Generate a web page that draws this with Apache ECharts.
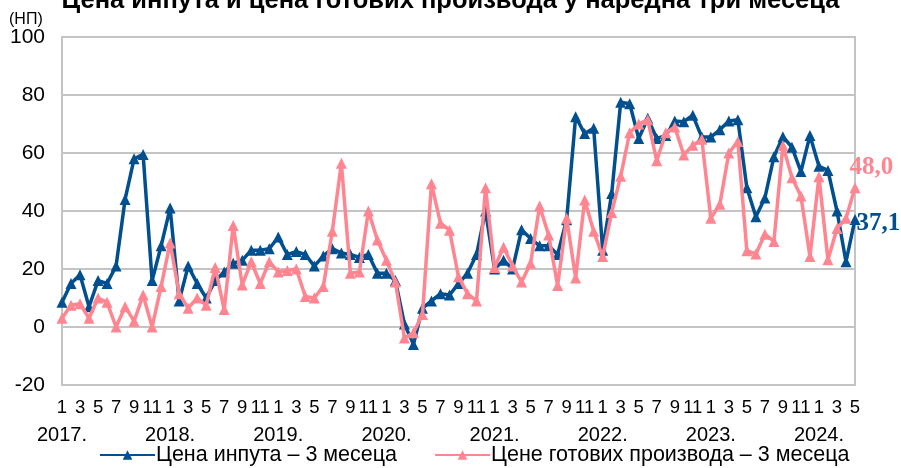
<!DOCTYPE html>
<html>
<head>
<meta charset="utf-8">
<script src="https://cdn.jsdelivr.net/npm/echarts@6/dist/echarts.min.js"></script>
<style>html,body{margin:0;padding:0;background:#fff;}#c{width:901px;height:468px;}</style>
</head>
<body>
<div id="c"></div>
<script>
const titleText = 'Цена инпута и цена готових производа у наредна три месеца';
const unitText = '(НП)';
const years = [2017, 2018, 2019, 2020, 2021, 2022, 2023, 2024];
const lastMonth = 5;
const seriesNames = ['Цена инпута – 3 месеца', 'Цене готових производа – 3 месеца'];
const inputPrices = [
  8.5, 15, 18, 7, 16, 15, 21, 44, 58, 59.5, 16, 28,
  41, 9, 21, 15, 10, 16, 19, 22, 23, 26.5, 26.5, 27,
  31, 25, 26, 25, 21, 24.5, 27, 25.5, 25, 24, 25, 18.5,
  18.5, 16, 1, -6, 6.5, 9, 11.5, 11, 15, 18.5, 25, 40,
  20, 23, 20, 33.5, 30.5, 28, 28, 25, 37, 72.5, 66.7, 68.5,
  26.5, 46, 77.5, 77, 65, 72, 65, 66, 71, 70.8, 73, 65.5,
  65.5, 68, 71, 71.5, 48, 38, 44.5, 58.7, 65.6, 62, 53.6, 66,
  55.4, 54, 40, 22.5, 37.1
];
const finishedPrices = [
  3, 7.5, 8, 3, 10, 8.5, 0, 7, 2, 11, 0, 14,
  29, 11.5, 6.5, 10, 7.5, 20.5, 6, 35, 14.5, 22.5, 15, 22.5,
  19, 19.5, 20, 10.5, 10, 14, 33, 56.5, 18.5, 19, 40, 30,
  23, 15.5, -3.8, -2, 4.3, 49.4, 35.8, 33.4, 17.3, 11.5, 9, 48,
  20.5, 27.5, 21, 15.5, 22, 41.7, 31.7, 14.3, 37.5, 16.9, 43.8, 33,
  24.3, 39.5, 52, 67, 70, 71.5, 57.3, 67, 69, 59.3, 62.7, 64.7,
  37.5, 42.3, 60, 64, 26.3, 25.2, 32, 29.5, 62.6, 51.5, 45.2, 24.3,
  51.8, 23.2, 34, 37.5, 48.0
];
const yMin = -20, yMax = 100, yStep = 20;

const categories = [];
years.forEach(y => {
  const n = (y === years[years.length - 1]) ? lastMonth : 12;
  for (let m = 1; m <= n; m++) categories.push(m + '|' + y);
});

const BLUE = '#004f8f';
const PINK = '#ff8591';
const SANS = "'Liberation Sans', Arial, sans-serif";

function withEndLabel(arr, color, offset) {
  const last = arr.length - 1;
  return arr.map((v, i) => i === last ? {
    value: v,
    label: {
      show: true, position: 'right', offset: offset,
      formatter: p => p.value.toFixed(1).replace('.', ','),
      color: color, fontFamily: "'Liberation Serif', 'Times New Roman', serif",
      fontWeight: 'bold', fontSize: 25
    }
  } : v);
}

const baseX = {
  type: 'category', data: categories, boundaryGap: false, position: 'bottom',
  axisLine: {show: false}, axisTick: {show: false}, splitLine: {show: false}
};

const chart = echarts.init(document.getElementById('c'), null, {renderer: 'canvas'});
chart.setOption({
  animation: false,
  backgroundColor: '#fff',
  title: {
    text: titleText, left: 'center', top: -17,
    textStyle: {fontFamily: SANS, fontWeight: 'bold', fontSize: 25.5, color: '#000'}
  },
  graphic: [{
    type: 'text', left: 9, top: 12,
    style: {text: unitText, font: "16px 'Liberation Sans', Arial, sans-serif", fill: '#000'}
  }],
  grid: {left: 62, right: 46, top: 37, bottom: 83, show: true, borderColor: '#c4c4c4', borderWidth: 2},
  legend: {
    bottom: -3, left: 94, itemGap: 37, itemWidth: 55, itemHeight: 12,
    textStyle: {fontFamily: SANS, fontSize: 21.5, color: '#000', padding: [0, 0, 0, -4]},
    data: seriesNames
  },
  xAxis: [
    Object.assign({}, baseX, {
      axisLabel: {
        interval: i => i % 2 === 0,
        showMinLabel: true, showMaxLabel: true, hideOverlap: false,
        margin: 13, fontFamily: SANS, fontSize: 18.5, color: '#000',
        formatter: v => v.split('|')[0]
      }
    }),
    Object.assign({}, baseX, {
      offset: 27,
      axisLabel: {
        interval: i => i % 12 === 0,
        showMinLabel: true, showMaxLabel: true, hideOverlap: false,
        margin: 13, fontFamily: SANS, fontSize: 20, color: '#000',
        formatter: v => v.split('|')[1] + '.'
      }
    })
  ],
  yAxis: {
    type: 'value', min: yMin, max: yMax, interval: yStep,
    axisLine: {show: false}, axisTick: {show: false},
    splitLine: {lineStyle: {color: '#c4c4c4', width: 2}},
    axisLabel: {margin: 17, fontFamily: SANS, fontSize: 21, color: '#000'}
  },
  series: [
    {
      name: seriesNames[0], type: 'line', data: withEndLabel(inputPrices, BLUE, [-9, 4]),
      symbol: 'triangle', symbolSize: 11, showAllSymbol: true,
      lineStyle: {color: BLUE, width: 3.5}, itemStyle: {color: BLUE}, z: 2
    },
    {
      name: seriesNames[1], type: 'line', data: withEndLabel(finishedPrices, PINK, [-16, -20]),
      symbol: 'triangle', symbolSize: 11, showAllSymbol: true,
      lineStyle: {color: PINK, width: 3.5}, itemStyle: {color: PINK}, z: 3
    }
  ]
});
</script>
</body>
</html>
